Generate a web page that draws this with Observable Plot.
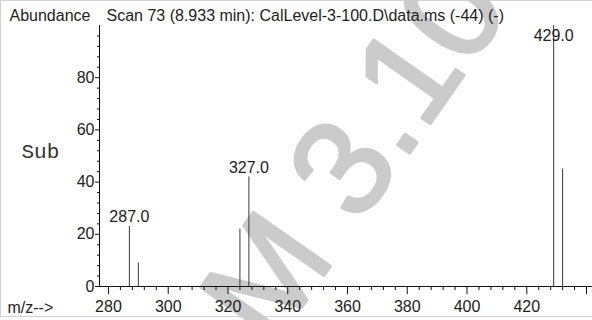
<!DOCTYPE html>
<html><head><meta charset="utf-8">
<script src="https://cdn.jsdelivr.net/npm/d3@7"></script>
<script src="https://cdn.jsdelivr.net/npm/@observablehq/plot@0.6"></script>
<style>
html,body{margin:0;padding:0;background:#fff;}
#wrap{position:relative;width:592px;height:320px;overflow:hidden;}
.bl{position:absolute;background:#d2d2d2;}
#wrap svg{position:absolute;left:0;top:0;}
</style></head><body>
<div id="wrap">
  <div class="bl" style="left:0;top:0;width:592px;height:1px"></div>
  <div class="bl" style="left:0;top:0;width:1px;height:317px"></div>
  <div class="bl" style="left:0;top:316px;width:592px;height:1px"></div>
</div>
<script>
// ---- data ----
const mz = [287, 290, 324, 327, 429, 432];
const abundance = [23, 9, 22, 42, 100, 45];
const labeledMz = [287, 327, 429];
const labelTexts = ["287.0", "327.0", "429.0"];
const xMajorTicks = [280, 300, 320, 340, 360, 380, 400, 420, 440];
const xTickLabels = ["280", "300", "320", "340", "360", "380", "400", "420", ""];
const xMinorTicks = [284, 288, 292, 296, 304, 308, 312, 316, 324, 328, 332, 336, 344, 348, 352, 356, 364, 368, 372, 376, 384, 388, 392, 396, 404, 408, 412, 416, 424, 428, 432, 436];
const yMajorTicks = [0, 20, 40, 60, 80];
const yMinorTicks = [4, 8, 12, 16, 24, 28, 32, 36, 44, 48, 52, 56, 64, 68, 72, 76, 84, 88, 92, 96];
const yTitle = "Abundance";
const chartTitle = "Scan 73 (8.933 min): CalLevel-3-100.D\\data.ms (-44) (-)";
const xTitle = "m/z-->";
const sideNote = "Sub";
const watermark = "M 3.10";

const peaks = mz.map((m, i) => ({mz: m, ab: abundance[i]}));
const labels = labeledMz.map((m, i) => ({mz: m, ab: abundance[mz.indexOf(m)], label: labelTexts[i]}));

const chart = Plot.plot({
  width: 592, height: 320,
  marginLeft: 99, marginRight: 0, marginTop: 25, marginBottom: 34,
  style: {fontFamily: "'Liberation Sans', Arial, sans-serif", fontSize: "16px", color: "#222", background: "transparent", overflow: "visible"},
  x: {domain: [277, 442], label: null},
  y: {domain: [0, 100], label: null},
  marks: [
    Plot.text([watermark], {text: d => d, frameAnchor: "top-left", dx: 172, dy: 325, rotate: -55, fontSize: 137, fill: "#cbcbcb", stroke: "#cbcbcb", strokeWidth: 3, textAnchor: "start", lineAnchor: "bottom"}),
    Plot.ruleX(peaks, {x: "mz", y1: 0, y2: "ab", stroke: "#3a3a3a", strokeWidth: 1}),
    Plot.ruleX([277], {stroke: "#111"}),
    Plot.ruleY([0], {stroke: "#111"}),
    Plot.axisX(xMajorTicks, {tickSize: 8, tickPadding: 6, stroke: "#111", label: null, tickFormat: d => xTickLabels[xMajorTicks.indexOf(d)]}),
    Plot.axisX(xMinorTicks, {tickSize: 4, stroke: "#111", label: null, tickFormat: () => ""}),
    Plot.axisY(yMajorTicks, {tickSize: 4, tickPadding: 1, stroke: "#111", label: null}),
    Plot.axisY(yMinorTicks, {tickSize: 2, stroke: "#111", label: null, tickFormat: () => ""}),
    Plot.text(labels, {x: "mz", y: d => Math.min(d.ab, 92.7), text: "label", dy: -4, lineAnchor: "bottom", textAnchor: "middle"}),
    Plot.text([yTitle], {text: d => d, frameAnchor: "top-left", dx: -90, dy: -5, lineAnchor: "bottom", textAnchor: "start"}),
    Plot.text([chartTitle], {text: d => d, frameAnchor: "top-left", dx: 7, dy: -5, lineAnchor: "bottom", textAnchor: "start"}),
    Plot.text([xTitle], {text: d => d, frameAnchor: "bottom-left", dx: -92, dy: 26.5, lineAnchor: "bottom", textAnchor: "start"}),
    Plot.text([sideNote], {text: d => d, frameAnchor: "top-left", dx: -78, dy: 132, lineAnchor: "bottom", textAnchor: "start", fontFamily: "'Courier New', Courier, 'Nimbus Mono PS', FreeMono, 'Liberation Mono', monospace", fontSize: 21, fill: "#333"})
  ]
});
document.getElementById("wrap").appendChild(chart);
</script>
</body></html>
